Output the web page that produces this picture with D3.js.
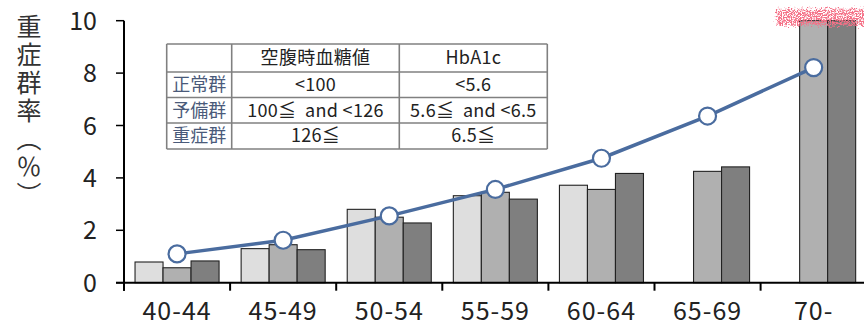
<!DOCTYPE html>
<html><head><meta charset="utf-8">
<script src="https://cdn.jsdelivr.net/npm/d3@7"></script>
<style>
html,body{margin:0;padding:0;background:#fff;}
svg{display:block;}
text{font-family:"Noto Sans CJK JP","Noto Sans",sans-serif;}
</style></head><body>
<svg id="chart" width="864" height="327"></svg>
<script>
// ---- data ----
const categories = ["40-44","45-49","50-54","55-59","60-64","65-69","70-"];
const seriesNames = ["seriesA","seriesB","seriesC"];
const seriesA = [0.79, 1.30, 2.80, 3.32, 3.72, null, null];
const seriesB = [0.57, 1.45, 2.50, 3.45, 3.56, 4.25, 10.0];
const seriesC = [0.83, 1.26, 2.28, 3.19, 4.17, 4.42, 10.0];
const lineValues = [1.10, 1.62, 2.55, 3.56, 4.75, 6.36, 8.21];
const yTicks = [0, 2, 4, 6, 8, 10];
const yTitle = "重症群率（％）";
const tableHeader = ["", "空腹時血糖値", "HbA1c"];
const tableRowLabels = ["正常群", "予備群", "重症群"];
const tableFPG = ["<100", "100≦ and <126", "126≦"];
const tableHbA1c = ["<5.6", "5.6≦ and <6.5", "6.5≦"];

(function(){
// ---- layout ----
const svg = d3.select("#chart");
const pL = 124, pR = 866.7, pT = 20.7, pB = 282.7;
const x0 = d3.scaleBand().domain(categories).range([pL, pR]).padding(0);
const bw = x0.bandwidth();
const x1 = d3.scaleBand().domain(seriesNames).range([bw*0.104, bw*0.896]).padding(0);
const y = d3.scaleLinear().domain([0, 10]).range([pB, pT]).clamp(true);

const colors = {seriesA:"#dedede", seriesB:"#b0b0b0", seriesC:"#7f7f7f"};
const seriesData = {seriesA, seriesB, seriesC};

// bars
const g = svg.append("g");
seriesNames.forEach(s => {
  g.selectAll(null).data(categories.map((c,i)=>({c, v:seriesData[s][i]})).filter(d=>d.v!=null))
   .enter().append("rect")
   .attr("x", d => x0(d.c) + x1(s))
   .attr("y", d => y(d.v))
   .attr("width", x1.bandwidth())
   .attr("height", d => y(0) - y(d.v))
   .attr("fill", colors[s])
   .attr("stroke", "#222").attr("stroke-width", 1.1);
});

// red speckled mark on clipped bars
const defs = svg.append("defs");
const f = defs.append("filter").attr("id","fuzz").attr("x","-10%").attr("y","-60%").attr("width","120%").attr("height","220%");
f.append("feTurbulence").attr("type","fractalNoise").attr("baseFrequency","0.45").attr("numOctaves",3).attr("seed",7).attr("result","n");
f.append("feDisplacementMap").attr("in","SourceGraphic").attr("in2","n").attr("scale",10).attr("xChannelSelector","R").attr("yChannelSelector","G").attr("result","d");
f.append("feTurbulence").attr("type","fractalNoise").attr("baseFrequency","0.8").attr("numOctaves",2).attr("seed",11).attr("result","n2");
f.append("feColorMatrix").attr("in","n2").attr("type","matrix")
  .attr("values","0 0 0 0 0.91  0 0 0 0 0.16  0 0 0 0 0.24  5.5 0 0 0 -2.1").attr("result","speck");
f.append("feComposite").attr("in","speck").attr("in2","d").attr("operator","in");
const clippedIdx = categories.map((c,i)=>i).filter(i => seriesB[i] >= 10);
clippedIdx.forEach(i => {
  const x = x0(categories[i]) + x1("seriesA") + 5;
  svg.append("rect")
    .attr("x", x).attr("y", y(10) - 12)
    .attr("width", pR - x).attr("height", 17)
    .attr("fill", "#e8303f")
    .attr("filter","url(#fuzz)");
});

// axes
const axisG = svg.append("g").attr("stroke","#000");
axisG.append("line").attr("x1", pL).attr("x2", pL).attr("y1", pT).attr("y2", pB+8).attr("stroke-width", 2);
axisG.append("line").attr("x1", pL-8).attr("x2", 864).attr("y1", pB).attr("y2", pB).attr("stroke-width", 2);
yTicks.forEach(t => {
  axisG.append("line").attr("x1", pL-8).attr("x2", pL).attr("y1", y(t)).attr("y2", y(t)).attr("stroke-width", 1.5);
});
categories.forEach(c => {
  axisG.append("line").attr("x1", x0(c)).attr("x2", x0(c)).attr("y1", pB).attr("y2", pB+8).attr("stroke-width", 2);
});
svg.append("g").selectAll("text").data(yTicks).enter().append("text")
  .attr("x", 97).attr("y", d => y(d)).attr("dy", "0.36em")
  .attr("text-anchor", "end").attr("font-size", 25).attr("fill", "#222")
  .text(d => d);
svg.append("g").selectAll("text").data(categories).enter().append("text")
  .attr("x", d => x0(d) + bw/2).attr("y", 320)
  .attr("text-anchor", "middle").attr("font-size", 25).attr("fill", "#222")
  .attr("letter-spacing", 1)
  .text(d => d);

// y title (vertical)
svg.append("text")
  .attr("x", 29).attr("y", 14)
  .style("writing-mode", "vertical-rl")
  .attr("font-size", 25).attr("fill", "#333")
  .attr("letter-spacing", 3)
  .text(yTitle);

// line
const line = d3.line().x((d,i) => x0(categories[i]) + bw/2).y(d => y(d));
svg.append("path").datum(lineValues).attr("d", line)
  .attr("fill","none").attr("stroke","#4a6c9f").attr("stroke-width",3.5);
svg.append("g").selectAll("circle").data(lineValues).enter().append("circle")
  .attr("cx", (d,i) => x0(categories[i]) + bw/2).attr("cy", d => y(d)).attr("r", 8.5)
  .attr("fill","#fff").attr("stroke","#4a6c9f").attr("stroke-width",2.2);

// table
const tx = [166.7, 231.7, 399.3, 547.3];
const ty = [44, 72, 97.5, 123, 149];
const tg = svg.append("g");
tg.append("rect").attr("x", tx[0]).attr("y", ty[0]).attr("width", tx[3]-tx[0]).attr("height", ty[4]-ty[0]).attr("fill","#fff");
const rows = [tableHeader].concat(tableRowLabels.map((r,i)=>[r, tableFPG[i], tableHbA1c[i]]));
rows.forEach((row, ri) => {
  row.forEach((cell, ci) => {
    tg.append("text")
      .attr("x", (tx[ci]+tx[ci+1])/2).attr("y", (ty[ri]+ty[ri+1])/2).attr("dy","0.36em")
      .attr("text-anchor","middle").attr("font-size", 18)
      .attr("letter-spacing", ci === 0 ? 0 : 0.3)
      .attr("fill", (ri>0 && ci===0) ? "#4a5a7a" : "#222")
      .style("white-space","pre")
      .text(cell.replace("≦ and", "≦  and"));
  });
});
const lineStyle = sel => sel.attr("stroke","#808080").attr("stroke-width",1.6);
ty.forEach(yy => lineStyle(tg.append("line").attr("x1",tx[0]).attr("x2",tx[3]).attr("y1",yy).attr("y2",yy)));
tx.forEach(xx => lineStyle(tg.append("line").attr("x1",xx).attr("x2",xx).attr("y1",ty[0]).attr("y2",ty[4])));
})();
</script>
</body></html>
